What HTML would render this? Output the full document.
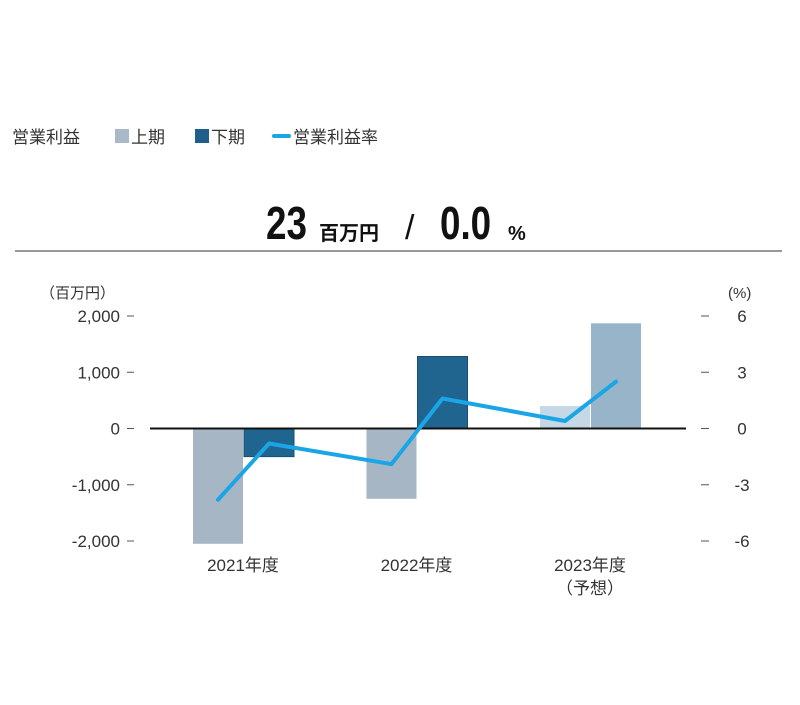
<!DOCTYPE html>
<html><head><meta charset="utf-8"><style>
body{margin:0;background:#fff;width:800px;height:700px;overflow:hidden;font-family:"Liberation Sans","Noto Sans CJK JP",sans-serif}
svg text{font-family:"Liberation Sans","Noto Sans CJK JP",sans-serif}
</style></head><body>
<svg width="800" height="700">
<g font-size="17" fill="#333">
<text x="12" y="143">営業利益</text>
<rect x="115" y="129" width="14" height="14" fill="#aab9c7"/>
<text x="131" y="143">上期</text>
<rect x="195" y="129" width="14" height="14" fill="#1f5f8b"/>
<text x="211" y="143">下期</text>
<line x1="274" y1="136" x2="289" y2="136" stroke="#1aa6e6" stroke-width="4" stroke-linecap="round"/>
<text x="293" y="143">営業利益率</text>
</g>
<g>
<text x="266" y="239" font-size="46" font-weight="bold" fill="#111" transform="translate(266 0) scale(0.8 1) translate(-266 0)">23</text>
<text x="319" y="240" font-size="20" font-weight="bold" fill="#111">百万円</text>
<text x="405" y="239" font-size="34" fill="#111">/</text>
<text x="440" y="239" font-size="46" font-weight="bold" fill="#111" transform="translate(440 0) scale(0.8 1) translate(-440 0)">0.0</text>
<text x="508" y="240" font-size="20" font-weight="bold" fill="#111">%</text>
<line x1="15" y1="251" x2="782" y2="251" stroke="#333" stroke-width="1"/>
</g>
<text x="40" y="298" font-size="15" fill="#333">（百万円）</text>
<text x="728" y="298" font-size="15" fill="#333">(%)</text>
<g id="axes"></g>
<g id="bars"></g>
<g id="line"></g>
</svg>
<script>
const categories=["2021年度","2022年度","2023年度"];
const h1Values=[-2050,-1250,400];
const h2Values=[-500,1280,1870];
const rateValues=[-3.8,-0.8,-1.9,1.6,0.4,2.5];
const leftTicks=[2000,1000,0,-1000,-2000];
const rightTicks=[6,3,0,-3,-6];
const forecast=[false,false,true];
const NS="http://www.w3.org/2000/svg";
const y0=428.5,pxPer1000=56.25;
const yL=v=>y0-v/1000*pxPer1000;
const yR=v=>y0-v/6*112.5;
const groupX=i=>193+i*173.5;
function el(tag,attrs,parent){const e=document.createElementNS(NS,tag);for(const k in attrs)e.setAttribute(k,attrs[k]);parent.appendChild(e);return e;}
const axes=document.getElementById('axes'),bars=document.getElementById('bars'),line=document.getElementById('line');
leftTicks.forEach(v=>{
 const t=el('text',{x:120,y:yL(v)+6,'font-size':17,fill:'#333','text-anchor':'end'},axes);
 
 
 t.textContent=v.toLocaleString('en-US');
 const l=el('line',{x1:127,x2:134,y1:yL(v),y2:yL(v),stroke:'#555'},axes);
 
 
});
rightTicks.forEach(v=>{
 const t=el('text',{x:742,y:yR(v)+6,'font-size':17,fill:'#333','text-anchor':'middle'},axes);
 
 
 t.textContent=v;
 const l=el('line',{x1:701,x2:709,y1:yR(v),y2:yR(v),stroke:'#555'},axes);
 
 
});
categories.forEach((c,i)=>{
 const x=groupX(i);
 const b1=el('rect',{x:x,width:50,y:Math.min(yL(0),yL(h1Values[i])),height:Math.abs(yL(h1Values[i])-yL(0)),fill:forecast[i]?'#c5d8e5':'#a7b6c4'},bars);
 
 
 const b2=el('rect',{x:x+51,width:50,y:Math.min(yL(0),yL(h2Values[i])),height:Math.abs(yL(h2Values[i])-yL(0)),fill:forecast[i]?'#97b4c9':'#1f6590',stroke:forecast[i]?'none':'#1a4f73','stroke-width':1},bars);
 
 
 const t=el('text',{x:x+50,y:571,'font-size':17,fill:'#333','text-anchor':'middle'},axes);
 
 
 t.textContent=c;
 if(forecast[i]){const t2=el('text',{x:x+50,y:594,'font-size':17,fill:'#333','text-anchor':'middle'},axes);
 
 
 t2.textContent='（予想）';}
});
const zl=el('line',{x1:150,x2:686,y1:y0,y2:y0,stroke:'#111','stroke-width':2},bars);


const pts=rateValues.map((v,j)=>{const i=Math.floor(j/2);return (groupX(i)+25+(j%2)*51)+','+yR(v);}).join(' ');
const pl=el('polyline',{points:pts,fill:'none',stroke:'#1aa6e6','stroke-width':4,'stroke-linecap':'round','stroke-linejoin':'round'},line);


</script>
</body></html>
